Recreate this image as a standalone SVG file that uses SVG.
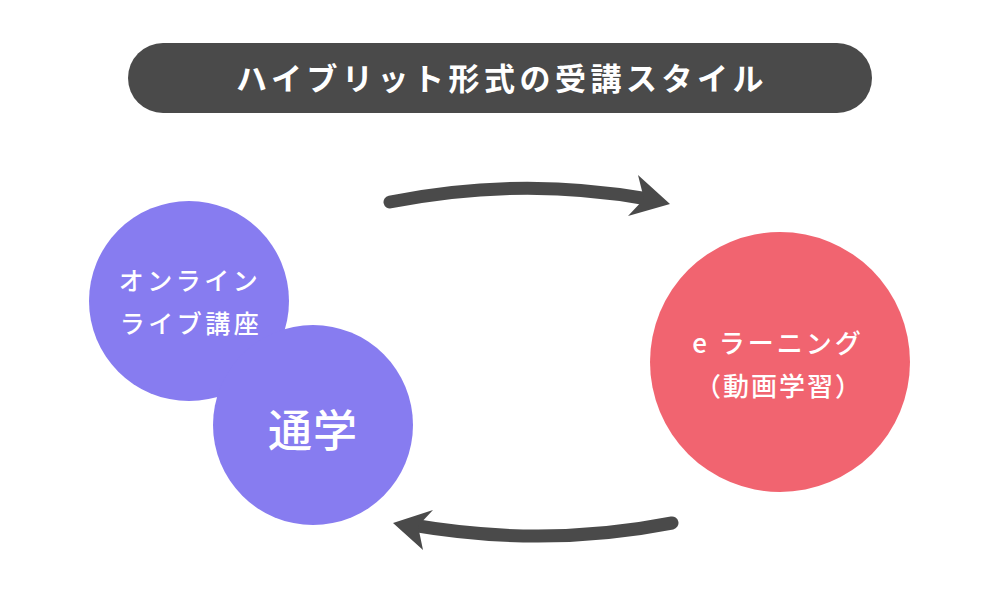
<svg xmlns="http://www.w3.org/2000/svg" width="1000" height="600" viewBox="0 0 1000 600">
<style>
.t{font-family:"Noto Sans CJK JP","Noto Sans",sans-serif;font-weight:500;fill:#fff;text-anchor:middle}
.tb{font-weight:700}
.arr{fill:none;stroke:#4a4a4a;stroke-width:13;stroke-linecap:round}
.head{fill:#4a4a4a}
</style>
<rect width="1000" height="600" fill="#fff"/>
<g id="title">
<rect x="128" y="43" width="744" height="70" rx="35" fill="#4a4a4a"/>
<text class="t tb" x="502" y="90" font-size="31" letter-spacing="4.5">ハイブリット形式の受講スタイル</text>
</g>
<g id="online">
<circle cx="189" cy="301" r="100" fill="#877cf0"/>
</g>
<g id="tsugaku">
<circle cx="313" cy="425" r="100" fill="#877cf0"/>
<text class="t" x="313" y="447" font-size="44" letter-spacing="1">通学</text>
</g>
<g id="online-label">
<text class="t" x="190" y="290" font-size="25" letter-spacing="3.5">オンライン</text>
<text class="t" x="191" y="333" font-size="25" letter-spacing="3.5">ライブ講座</text>
</g>
<g id="elearning">
<circle cx="780" cy="362" r="130" fill="#f16470"/>
<text class="t" x="778" y="353" font-size="26" letter-spacing="3">e ラーニング</text>
<text class="t" x="779" y="396" font-size="26" letter-spacing="2">（動画学習）</text>
</g>
<g id="connectors">
<path class="arr" d="M390,202 Q520,176 648,199"/>
<polygon class="head" points="638,175 670,204 628,216 644,199"/>
<path class="arr" d="M672,523 Q545,548 412,525"/>
<polygon class="head" points="433,510 393,523 423,550 418,526"/>
</g>
</svg>
